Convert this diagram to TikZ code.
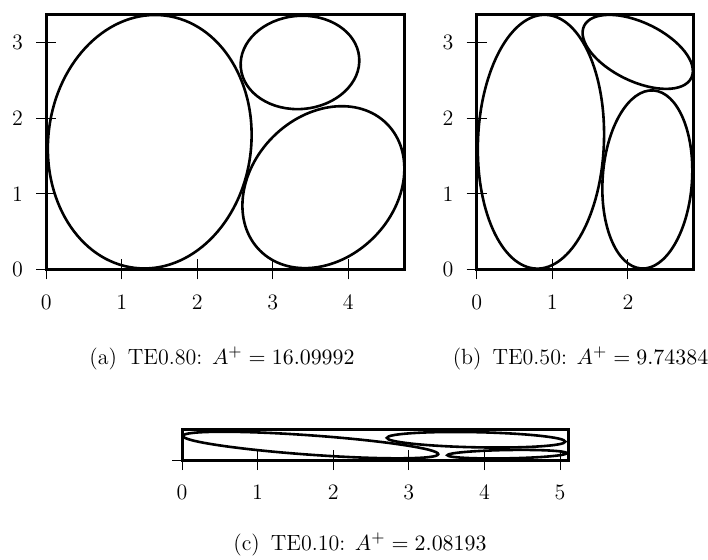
\documentclass[tikz,border=0pt]{standalone}
\begin{document}
\begin{tikzpicture}[x=0.5pt,y=-0.5pt,
  every node/.style={font=\fontsize{11}{13.5}\selectfont},
  boxline/.style={line width=1.5pt},
  ellline/.style={line width=1.3pt},
  tickline/.style={line width=0.45pt},
  xlab/.style={anchor=base,inner sep=0pt,yshift=-19.9pt},
  ylab/.style={anchor=east,inner sep=0pt,xshift=-11.5pt},
  caplab/.style={anchor=base,inner sep=0pt}]
\useasboundingbox (0,0) rectangle (708,559);

% ---------- (a) ----------
\begin{scope}[shift={(46.3,269.3)},x=37.75pt,y=37.75pt]
  \foreach \i in {0,...,4}{
    \draw[tickline] (\i,0) ++(0pt,-5pt) -- ++(0pt,10pt);
    \node[xlab] (ax\i) at (\i,0) {\i};
  }
  \foreach \i in {0,...,3}{
    \draw[tickline] (0,\i) ++(-5pt,0pt) -- ++(10pt,0pt);
    \node[ylab] (ay\i) at (0,\i) {\i};
  }
  \draw[boxline] (0,0) rectangle (4.745,3.38);
  \draw[ellline,rotate around={-6.8:(1.37,1.69)}] (1.37,1.69) ellipse [x radius=1.344, y radius=1.683];
  \draw[ellline,rotate around={5:(3.36,2.74)}] (3.36,2.74) ellipse [x radius=0.787, y radius=0.617];
  \draw[ellline,rotate around={45:(3.67,1.088)}] (3.67,1.088) ellipse [x radius=1.188, y radius=0.943];
\end{scope}

% ---------- (b) ----------
\begin{scope}[shift={(476.7,269.3)},x=37.8pt,y=37.75pt]
  \foreach \i in {0,...,2}{
    \draw[tickline] (\i,0) ++(0pt,-5pt) -- ++(0pt,10pt);
    \node[xlab] (bx\i) at (\i,0) {\i};
  }
  \foreach \i in {0,...,3}{
    \draw[tickline] (0,\i) ++(-5pt,0pt) -- ++(10pt,0pt);
    \node[ylab] (by\i) at (0,\i) {\i};
  }
  \draw[boxline] (0,0) rectangle (2.87,3.38);
  \draw[ellline,rotate around={-2.2:(0.85,1.69)}] (0.85,1.69) ellipse [x radius=0.833, y radius=1.682];
  \draw[ellline,rotate around={-25.8:(2.13,2.88)}] (2.13,2.88) ellipse [x radius=0.788, y radius=0.389];
  \draw[ellline,rotate around={-3.9:(2.257,1.19)}] (2.257,1.19) ellipse [x radius=0.591, y radius=1.182];
\end{scope}

% ---------- (c) ----------
\begin{scope}[shift={(182,460)},x=37.8pt,y=37.8pt]
  \foreach \i in {0,...,5}{
    \draw[tickline] (\i,0) ++(0pt,-5pt) -- ++(0pt,10pt);
    \node[xlab] (cx\i) at (\i,0) {\i};
  }
  \draw[tickline] (0,0) ++(-5pt,0pt) -- ++(10pt,0pt);
  \draw[boxline] (0,0) rectangle (5.11,0.40);
  \draw[ellline,rotate around={-4.09:(1.70,0.198)}] (1.70,0.198) ellipse [x radius=1.694, y radius=0.128];
  \draw[ellline,rotate around={-1.2:(3.89,0.268)}] (3.89,0.268) ellipse [x radius=1.18, y radius=0.10];
  \draw[ellline,rotate around={1:(4.30,0.077)}] (4.30,0.077) ellipse [x radius=0.79, y radius=0.055];
\end{scope}

% ---------- captions ----------
\node[caplab] (capa) at (222,364) {(a)\hspace{0.5em}TE0.80: $A^{+} = 16.09992$};
\node[caplab] (capb) at (580.5,364) {(b)\hspace{0.5em}TE0.50: $A^{+} = 9.74384$};
\node[caplab] (capc) at (360,550) {(c)\hspace{0.5em}TE0.10: $A^{+} = 2.08193$};
\end{tikzpicture}
\end{document}
